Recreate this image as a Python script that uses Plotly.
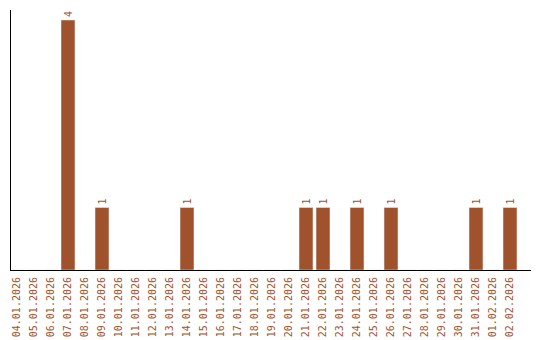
import plotly.graph_objects as go

dates = ["04.01.2026","05.01.2026","06.01.2026","07.01.2026","08.01.2026","09.01.2026",
         "10.01.2026","11.01.2026","12.01.2026","13.01.2026","14.01.2026","15.01.2026",
         "16.01.2026","17.01.2026","18.01.2026","19.01.2026","20.01.2026","21.01.2026",
         "22.01.2026","23.01.2026","24.01.2026","25.01.2026","26.01.2026","27.01.2026",
         "28.01.2026","29.01.2026","30.01.2026","31.01.2026","01.02.2026","02.02.2026"]
counts = [0,0,0,4,0,1,0,0,0,0,1,0,0,0,0,0,0,1,1,0,1,0,1,0,0,0,0,1,0,1]

color = "#A0522D"
labels = [str(c) if c > 0 else "" for c in counts]

fig = go.Figure(go.Bar(
    x=dates, y=counts, marker_color=color, width=0.82,
    text=labels, textposition="outside", textangle=-90,
    textfont=dict(family="DejaVu Sans Mono", size=10, color=color),
    cliponaxis=False,
))
fig.update_layout(
    width=540, height=340, margin=dict(l=11, r=9, t=10, b=70),
    paper_bgcolor="white", plot_bgcolor="white", showlegend=False,
    xaxis=dict(type="category", range=[-0.353, 30.235], showline=True, linecolor="black",
               linewidth=1, tickangle=-90, ticks="", showgrid=False, automargin=False,
               ticklabelstandoff=2,
               tickfont=dict(family="DejaVu Sans Mono", size=10, color=color)),
    yaxis=dict(range=[0, 4.16], showline=True, linecolor="black", linewidth=1,
               showticklabels=False, ticks="", showgrid=False, zeroline=False),
)
fig.write_html("out.html")
